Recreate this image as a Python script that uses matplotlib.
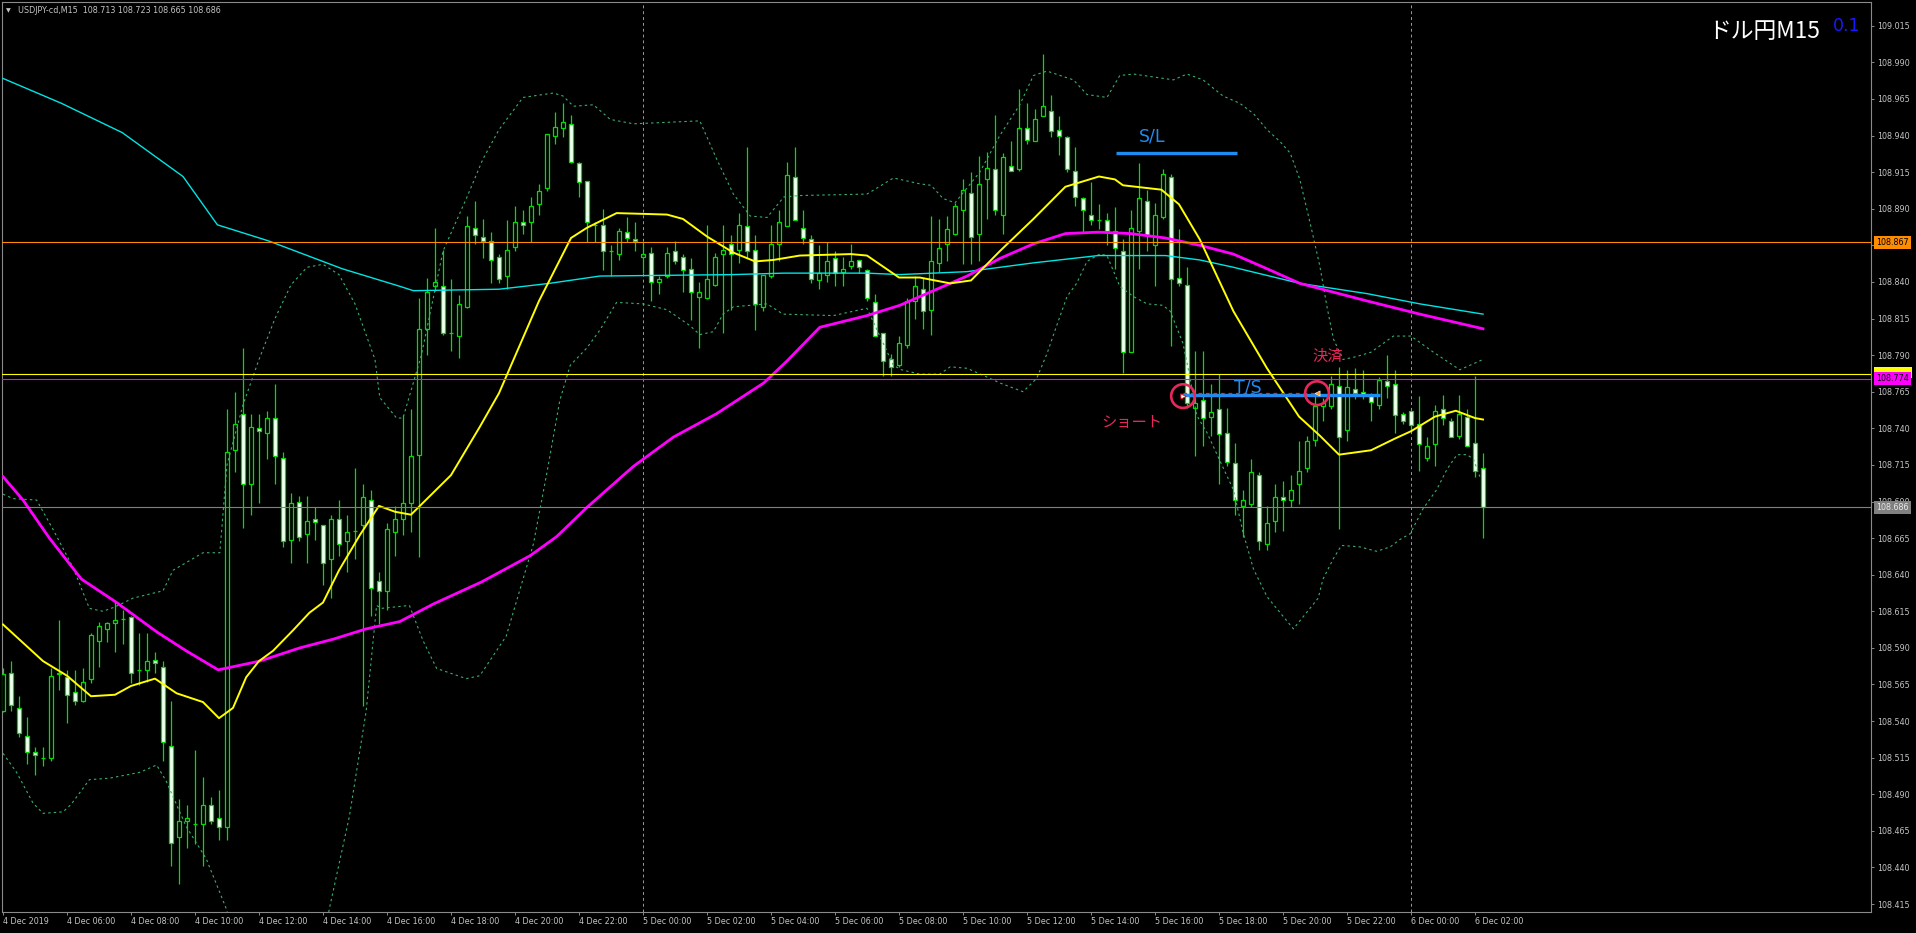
import numpy as np
import matplotlib
matplotlib.use("Agg")
import matplotlib.pyplot as plt
import matplotlib.transforms as mtransforms
from matplotlib.patches import Rectangle

W, H, DPI = 1916, 933, 100

# ---------------- data ----------------
opens = [
108.547,108.573,108.549,108.530,108.519,108.515,108.515,108.572,108.570,108.560,
108.554,108.569,108.595,108.603,108.607,108.610,108.611,108.575,108.575,108.582,
108.577,108.523,108.461,108.472,108.470,108.470,108.483,108.474,108.468,108.725,
108.750,108.702,108.740,108.737,108.747,108.720,108.664,108.690,108.668,108.678,
108.674,108.651,108.678,108.663,108.670,108.674,108.691,108.636,108.629,108.669,
108.678,108.689,108.722,108.808,108.837,108.837,108.805,108.803,108.823,108.877,
108.871,108.868,108.857,108.844,108.864,108.881,108.881,108.893,108.904,108.940,
108.945,108.948,108.921,108.909,108.879,108.879,108.861,108.859,108.874,108.869,
108.857,108.860,108.840,108.844,108.861,108.857,108.849,108.830,108.829,108.838,
108.859,108.866,108.862,108.878,108.862,108.823,108.844,108.866,108.878,108.912,
108.877,108.869,108.841,108.845,108.856,108.847,108.851,108.855,108.848,108.826,
108.805,108.787,108.783,108.797,108.827,108.835,108.821,108.853,108.866,108.873,
108.889,108.901,108.873,108.910,108.917,108.886,108.919,108.917,108.945,108.936,
108.953,108.957,108.944,108.939,108.916,108.897,108.886,108.882,108.882,108.875,
108.861,108.792,108.875,108.895,108.865,108.884,108.912,108.843,108.838,108.754,
108.759,108.748,108.753,108.737,108.716,108.687,108.688,108.708,108.661,108.677,
108.693,108.691,108.702,108.713,108.732,108.755,108.755,108.769,108.739,108.767,
108.765,108.762,108.756,108.772,108.770,108.750,108.752,108.743,108.720,108.729,
108.753,108.745,108.735,108.748,108.730,108.713]

highs = [
108.576,108.581,108.557,108.543,108.522,108.522,108.576,108.609,108.575,108.575,
108.576,108.600,108.608,108.608,108.622,108.616,108.612,108.600,108.600,108.587,
108.581,108.554,108.487,108.483,108.520,108.502,108.488,108.493,108.753,108.765,
108.795,108.750,108.750,108.752,108.770,108.724,108.696,108.694,108.694,108.686,
108.674,108.681,108.691,108.681,108.713,108.702,108.698,108.642,108.675,108.687,
108.749,108.753,108.829,108.843,108.877,108.862,108.842,108.831,108.885,108.895,
108.883,108.874,108.859,108.882,108.892,108.889,108.898,108.907,108.941,108.956,
108.962,108.954,108.922,108.909,108.881,108.890,108.865,108.877,108.884,108.881,
108.867,108.864,108.844,108.864,108.868,108.859,108.856,108.840,108.879,108.860,
108.879,108.872,108.887,108.932,108.872,108.845,108.879,108.889,108.922,108.932,
108.889,108.872,108.865,108.867,108.861,108.857,108.866,108.855,108.849,108.832,
108.805,108.791,108.803,108.829,108.844,108.843,108.885,108.883,108.885,108.894,
108.910,108.915,108.926,108.929,108.954,108.928,108.936,108.972,108.962,108.958,
108.996,108.968,108.953,108.940,108.932,108.898,108.908,108.893,108.887,108.891,
108.869,108.889,108.921,108.903,108.894,108.917,108.914,108.876,108.850,108.793,
108.793,108.770,108.777,108.754,108.730,108.698,108.719,108.710,108.687,108.702,
108.704,108.708,108.731,108.735,108.763,108.761,108.776,108.782,108.780,108.781,
108.780,108.764,108.775,108.790,108.780,108.751,108.752,108.762,108.734,108.756,
108.763,108.747,108.763,108.753,108.776,108.723]

lows = [
108.546,108.547,108.529,108.511,108.503,108.509,108.513,108.561,108.539,108.551,
108.553,108.566,108.577,108.594,108.587,108.593,108.566,108.565,108.567,108.573,
108.513,108.441,108.429,108.453,108.456,108.441,108.470,108.459,108.459,108.710,
108.672,108.681,108.689,108.719,108.702,108.659,108.648,108.663,108.648,108.664,
108.633,108.624,108.653,108.642,108.651,108.550,108.612,108.606,108.616,108.653,
108.667,108.669,108.652,108.790,108.834,108.804,108.793,108.788,108.822,108.866,
108.856,108.839,108.839,108.835,108.861,108.873,108.867,108.886,108.902,108.934,
108.939,108.921,108.898,108.867,108.867,108.848,108.844,108.855,108.867,108.861,
108.846,108.827,108.832,108.843,108.852,108.833,108.814,108.795,108.828,108.837,
108.805,108.821,108.853,108.856,108.807,108.820,108.843,108.854,108.878,108.882,
108.866,108.839,108.835,108.840,108.837,108.837,108.849,108.846,108.827,108.803,
108.776,108.776,108.782,108.795,108.815,108.808,108.804,108.847,108.854,108.872,
108.852,108.852,108.854,108.883,108.886,108.873,108.916,108.916,108.934,108.936,
108.953,108.939,108.927,108.915,108.892,108.874,108.879,108.876,108.865,108.849,
108.778,108.792,108.849,108.861,108.837,108.883,108.796,108.837,108.754,108.721,
108.728,108.735,108.702,108.714,108.681,108.666,108.686,108.657,108.657,108.669,
108.670,108.686,108.688,108.710,108.728,108.745,108.753,108.671,108.731,108.760,
108.760,108.745,108.753,108.761,108.737,108.743,108.738,108.711,108.718,108.714,
108.742,108.734,108.733,108.728,108.707,108.665]

closes = [
108.572,108.551,108.532,108.519,108.517,108.515,108.571,108.573,108.558,108.554,
108.567,108.599,108.605,108.607,108.609,108.610,108.573,108.575,108.581,108.580,
108.526,108.457,108.472,108.474,108.470,108.483,108.472,108.468,108.724,108.743,
108.702,108.741,108.738,108.747,108.721,108.663,108.689,108.666,108.677,108.676,
108.648,108.678,108.661,108.669,108.670,108.693,108.631,108.629,108.671,108.678,
108.689,108.721,108.808,108.833,108.840,108.805,108.805,108.825,108.878,108.872,
108.868,108.855,108.842,108.862,108.881,108.879,108.892,108.902,108.941,108.946,
108.949,108.922,108.908,108.881,108.879,108.861,108.861,108.875,108.870,108.868,
108.859,108.840,108.842,108.860,108.854,108.848,108.833,108.833,108.842,108.857,
108.862,108.859,108.879,108.861,108.825,108.845,108.866,108.881,108.913,108.882,
108.870,108.842,108.846,108.854,108.846,108.849,108.854,108.850,108.829,108.803,
108.786,108.782,108.798,108.827,108.837,108.820,108.854,108.863,108.876,108.892,
108.903,108.871,108.907,108.918,108.889,108.925,108.916,108.945,108.937,108.951,
108.960,108.943,108.940,108.917,108.898,108.889,108.882,108.882,108.875,108.863,
108.792,108.877,108.897,108.872,108.886,108.914,108.842,108.839,108.757,108.757,
108.747,108.751,108.736,108.717,108.691,108.691,108.710,108.663,108.675,108.693,
108.691,108.698,108.711,108.731,108.755,108.757,108.770,108.734,108.768,108.764,
108.763,108.758,108.773,108.769,108.749,108.745,108.742,108.729,108.728,108.752,
108.747,108.734,108.750,108.728,108.711,108.686]

# moving averages (bar index, price)
ma_yellow_x = [0,5,8,11,14,16,19,21.7,25,27,28.75,30.4,32,33.75,35,36.25,38.3,40,42,44.6,47,49,51,
               56,59.6,62,67,71,73,76.7,83,85,88,91.3,94,96.3,99.6,106,108,112,114.6,118.4,121,
               124.6,128.8,132.8,137,139,140,144.8,147,149.6,153.8,158,162,164.6,167,171,174,176,
               179,181.6,184,185]
ma_yellow_y = [108.606,108.581,108.571,108.557,108.558,108.564,108.569,108.559,108.553,108.542,
               108.549,108.570,108.581,108.588,108.595,108.602,108.614,108.621,108.643,108.667,
               108.687,108.683,108.681,108.708,108.741,108.764,108.827,108.870,108.877,108.887,
               108.886,108.883,108.871,108.860,108.854,108.855,108.858,108.859,108.858,108.843,
               108.843,108.839,108.841,108.861,108.883,108.905,108.912,108.910,108.906,108.903,
               108.893,108.869,108.820,108.781,108.748,108.735,108.722,108.725,108.733,108.738,
               108.748,108.752,108.747,108.746]

ma_magenta_x = [0,2.5,5.8,9.8,14.2,19.2,22.9,26.9,32.1,37.1,41.3,45.4,49.6,53.8,59.8,65.9,69.2,73,
                78.8,83.8,89.2,95.1,98,102.1,108,112.1,116.3,120.5,124.6,128.8,132.8,136.9,141,
                145.3,149.6,153.8,158,162.1,166.3,170.5,177.1,185]
ma_magenta_y = [108.707,108.691,108.665,108.637,108.621,108.601,108.588,108.575,108.581,108.590,
                108.596,108.603,108.608,108.620,108.635,108.653,108.666,108.686,108.714,108.734,
                108.750,108.771,108.786,108.809,108.817,108.824,108.834,108.844,108.856,108.866,
                108.873,108.874,108.873,108.870,108.865,108.859,108.849,108.839,108.833,108.827,
                108.818,108.808]

ma_cyan_x = [0,7.3,14.9,22.5,26.8,33.2,42.4,49.6,51.3,62,68.3,74.6,91.3,97.6,108,112.1,120.5,
             128.8,136.9,145.3,149.6,153.8,162.1,170.5,177.1,185]
ma_cyan_y = [108.979,108.962,108.942,108.912,108.879,108.868,108.849,108.837,108.834,108.835,
             108.839,108.844,108.845,108.846,108.846,108.845,108.847,108.853,108.858,108.858,
             108.855,108.850,108.839,108.832,108.825,108.818]

# Bollinger bands (bar index, price)
bb_upper_x = [0,1.25,4.2,6.25,8.75,10.8,12.5,14,16.25,20,21.25,25,27.1,28,30,32,34,36,38,40,42,44,
              46.5,47.1,49.2,50,52.3,55,58,60,62,65,68.8,70,71.3,73.8,75.9,78.8,87.1,89.2,91.3,93.4,
              95.5,97.6,99.6,108,111.3,114.6,116,117.5,119,122.1,124.6,127.1,128.8,130.5,133.8,
              135.5,138,139.6,141.3,146.3,148,150,152.5,154.6,156.3,158,159.6,160.9,162.1,163.4,
              164.6,165.5,166.3,167.5,169.2,171,173.8,176,178.8,182.1,185]
bb_upper_y = [108.695,108.692,108.691,108.671,108.645,108.617,108.615,108.618,108.624,108.629,
              108.643,108.655,108.655,108.715,108.756,108.787,108.815,108.838,108.850,108.852,
              108.845,108.825,108.787,108.761,108.747,108.747,108.790,108.861,108.898,108.924,
              108.944,108.966,108.969,108.967,108.960,108.961,108.951,108.948,108.950,108.924,
              108.900,108.885,108.884,108.898,108.899,108.900,108.911,108.907,108.906,108.897,
              108.894,108.915,108.940,108.961,108.981,108.984,108.978,108.968,108.966,108.981,
              108.982,108.978,108.982,108.978,108.967,108.962,108.955,108.944,108.936,108.928,
              108.910,108.880,108.851,108.823,108.801,108.787,108.789,108.792,108.803,108.803,
              108.792,108.780,108.787]

bb_lower_x = [0,1.7,3.75,5,7.5,8.5,10.8,13.3,17.1,19.2,20.4,22.9,25.4,27.9,30,33,36,39,40.8,43.3,
              45.4,46.7,47.3,50.8,52.5,54.2,57.9,59.6,62.9,66.3,68,69.6,70.9,73,74.6,76.7,80,83,
              85.9,87.1,88.8,90,91.3,95.5,97.5,103.8,108,111.3,112.3,114.6,117.1,118.4,120.5,123,
              124.6,127.5,129.2,130.5,131.7,133,134.2,135.5,137.1,138,139.6,141.3,143,145,145.9,
              147.5,148.4,149.2,150.5,152.1,153.8,155,156.3,158,161.3,164.4,165,166.3,167.3,169.6,
              171.7,173.4,174.6,175.9,177.5,179.2,180.5,181.75,183,183.8,184.6]
bb_lower_y = [108.518,108.505,108.484,108.477,108.478,108.483,108.500,108.501,108.505,108.510,
              108.499,108.468,108.446,108.412,108.370,108.330,108.320,108.360,108.412,108.475,
              108.547,108.619,108.617,108.619,108.595,108.576,108.569,108.571,108.598,108.661,
              108.710,108.759,108.783,108.795,108.807,108.826,108.825,108.821,108.810,108.804,
              108.806,108.818,108.823,108.825,108.818,108.817,108.822,108.783,108.780,108.777,
              108.777,108.782,108.781,108.775,108.771,108.765,108.774,108.791,108.810,108.830,
              108.839,108.854,108.859,108.858,108.837,108.830,108.825,108.824,108.820,108.798,
              108.774,108.749,108.737,108.718,108.698,108.669,108.644,108.625,108.603,108.624,
              108.637,108.651,108.660,108.659,108.656,108.659,108.664,108.668,108.685,108.698,
              108.712,108.722,108.722,108.719,108.707]

# horizontal price lines
hline_prices = [108.867, 108.777, 108.774, 108.686]
hline_colors = ["#ff8c00", "#ffff00", "#ff00ff", "#808080"]

# trade annotation levels
sl_price, sl_from, sl_to = 108.928, 139.1, 154.25
ts_price, ts_from, ts_to = 108.763, 147.1, 172.1
entry_bar, entry_price = 147.5, 108.762
exit_bar, exit_price = 164.25, 108.764

price_ticks = [108.415 + 0.025 * k for k in range(25)]
time_tick_bars = list(range(0, 186, 8))
time_tick_labels = ["4 Dec 2019", "4 Dec 06:00", "4 Dec 08:00", "4 Dec 10:00", "4 Dec 12:00",
                    "4 Dec 14:00", "4 Dec 16:00", "4 Dec 18:00", "4 Dec 20:00", "4 Dec 22:00",
                    "5 Dec 00:00", "5 Dec 02:00", "5 Dec 04:00", "5 Dec 06:00", "5 Dec 08:00",
                    "5 Dec 10:00", "5 Dec 12:00", "5 Dec 14:00", "5 Dec 16:00", "5 Dec 18:00",
                    "5 Dec 20:00", "5 Dec 22:00", "6 Dec 00:00", "6 Dec 02:00"]
day_sep_bars = [80, 176]

# ---------------- drawing ----------------
plt.rcParams["font.family"] = ["DejaVu Sans"]
JP = ["Noto Sans CJK JP", "DejaVu Sans"]
GREEN = "#00e000"
GRAY_TXT = "#c4c4c4"
AXCOL = "#8a8a8a"
BBCOL = "#3aae6c"

fig = plt.figure(figsize=(W / DPI, H / DPI), dpi=DPI, facecolor="black")
ax = fig.add_axes([2 / W, 21 / H, 1869 / W, 910 / H], facecolor="black")
ax.set_xlim(-0.125, 233.5)
ax.set_ylim(108.4096, 109.0312)

for s in ax.spines.values():
    s.set_color(AXCOL)
    s.set_linewidth(0.8)

# day separators
for b in day_sep_bars:
    ax.axvline(b, color="#9a9a9a", lw=0.7, ls=(0, (3, 3)), zorder=1)

# candles
o = np.array(opens); c = np.array(closes)
hi = np.array(highs); lo = np.array(lows)
idx = np.arange(len(o))
bull = c >= o
ax.vlines(idx, lo, hi, color=GREEN, lw=0.9, zorder=2)
ax.bar(idx, np.abs(c - o), bottom=np.minimum(o, c), width=0.62,
       color=np.where(bull, "black", "white"), edgecolor=GREEN, linewidth=0.9, zorder=3)

# bollinger bands
ax.plot(bb_upper_x, bb_upper_y, color=BBCOL, lw=0.8, ls=(0, (2.2, 2.8)), zorder=4)
ax.plot(bb_lower_x, bb_lower_y, color=BBCOL, lw=0.8, ls=(0, (2.2, 2.8)), zorder=4)

# moving averages
ax.plot(ma_cyan_x, ma_cyan_y, color="#00e5e5", lw=1.0, zorder=5)
ax.plot(ma_magenta_x, ma_magenta_y, color="#ff00ff", lw=2.0, zorder=5)
ax.plot(ma_yellow_x, ma_yellow_y, color="#ffff00", lw=1.4, zorder=6)

# horizontal lines
for p, col in zip(hline_prices, hline_colors):
    ax.axhline(p, color=col, lw=0.8, zorder=6)

# trade annotations
BLUE = "#1e8cf0"
PINK = "#e8285c"
ax.plot([sl_from, sl_to], [sl_price, sl_price], color=BLUE, lw=2.4, solid_capstyle="butt", zorder=7)
ax.plot([ts_from, ts_to], [ts_price, ts_price], color=BLUE, lw=2.4, solid_capstyle="butt", zorder=7)
ax.plot([entry_bar, exit_bar], [entry_price + 0.002, exit_price], color="#ff2020", lw=0.9,
        ls=(0, (3, 3)), zorder=7)
ax.text((sl_from + sl_to) / 2 - 3, sl_price + 0.011, "S/L", color=BLUE, fontsize=12.5,
        ha="center", va="center", zorder=8)
ax.text(155.6, ts_price + 0.005, "T/S", color=BLUE, fontsize=12.5, ha="center", va="center", zorder=8)
ax.scatter([entry_bar, exit_bar], [entry_price, exit_price], s=290, facecolors="none",
           edgecolors=PINK, linewidths=1.9, zorder=9)
ax.scatter([entry_bar], [entry_price], marker=">", s=14, facecolors="white", edgecolors="red",
           linewidths=0.6, zorder=10)
ax.scatter([exit_bar], [exit_price], marker="<", s=14, facecolors="#ff9a20", edgecolors="white",
           linewidths=0.4, zorder=10)
ax.text(141.1, 108.744, "ショート", color=PINK, fontsize=11, family=JP, ha="center", va="center", zorder=8)
ax.text(165.6, 108.789, "決済", color=PINK, fontsize=11, family=JP, ha="center", va="center", zorder=8)

# price axis on the right
ax.yaxis.tick_right()
ax.set_yticks(price_ticks)
ax.set_yticklabels([f"{v:.3f}" for v in price_ticks])
ax.tick_params(axis="y", colors=AXCOL, labelcolor=GRAY_TXT, labelsize=5.8, length=2.5,
               width=0.7, pad=1.6, direction="out")
ax.set_xticks(time_tick_bars)
ax.set_xticklabels(time_tick_labels)
ax.tick_params(axis="x", colors=AXCOL, labelcolor=GRAY_TXT, labelsize=5.8, length=2.5,
               width=0.7, pad=1.2, direction="out")
for lbl in ax.get_xticklabels():
    lbl.set_ha("left")

# coloured price labels (the yellow one is almost fully covered by the magenta one)
trans = mtransforms.blended_transform_factory(ax.transAxes, ax.transData)
ax.add_patch(Rectangle((1.0014, 108.7745), 0.0205, 0.0077, transform=trans, fc="#ffff00",
                       ec="none", clip_on=False, zorder=19))
box_specs = [(108.867, "#ff8c00", "black"), (108.774, "#ff00ff", "black"),
             (108.686, "#808080", "#e8e8e8")]
for k, (p, bg, fg) in enumerate(box_specs):
    ax.text(1.0026, p, f"{p:.3f}", transform=trans, ha="left", va="center", fontsize=5.8,
            color=fg, clip_on=False, zorder=20 + k,
            bbox=dict(boxstyle="square,pad=0.28", fc=bg, ec="none"))

# header and title
fig.text(8 / W, 1 - 11 / H, "▼", color=GRAY_TXT, fontsize=4.5, ha="center", va="center")
fig.text(18 / W, 1 - 10.5 / H, "USDJPY-cd,M15  108.713 108.723 108.665 108.686",
         color=GRAY_TXT, fontsize=5.8, ha="left", va="center")
fig.text(1708 / W, 1 - 37.5 / H, "ドル円M15", color="white", fontsize=16.4, family=JP,
         ha="left", va="baseline")
fig.text(1833 / W, 1 - 31 / H, "0.1", color="#1818ff", fontsize=12.5, ha="left", va="baseline")

fig.savefig("out.png", dpi=DPI, facecolor="black")
